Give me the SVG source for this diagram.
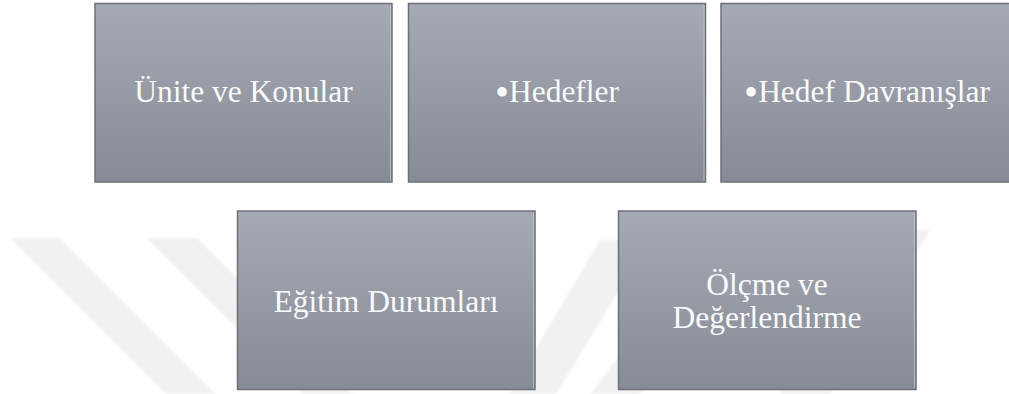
<svg xmlns="http://www.w3.org/2000/svg" width="1009" height="394" viewBox="0 0 1009 394">
  <defs>
    <linearGradient id="boxGrad" x1="0" y1="0" x2="0" y2="1">
      <stop offset="0" stop-color="#a6aab4"/>
      <stop offset="1" stop-color="#868b96"/>
    </linearGradient>
    <filter id="soft" x="-10%" y="-10%" width="120%" height="120%">
      <feGaussianBlur stdDeviation="1.2"/>
    </filter>
    <style>
      .box { fill: url(#boxGrad); stroke: #6b7079; stroke-width: 1.5; }
      .hl { fill: none; stroke: #c9ccd2; stroke-width: 1; opacity: 0.7; }
      .lbl { font-family: 'Liberation Serif', 'Times New Roman', Times, 'DejaVu Serif', serif; font-size: 31.5px; fill: #fafafa; text-anchor: middle; }
      .bul { font-size: 40px; }
      .wm { fill: #f1f1f1; }
    </style>
  </defs>
  <rect x="0" y="0" width="1009" height="394" fill="#ffffff"/>
  <g id="watermark" filter="url(#soft)">
    <polygon class="wm" points="10,238 60,238 216,394 166,394"/>
    <polygon class="wm" points="147,238 197,238 353,394 303,394"/>
    <polygon class="wm" points="600,240 650,240 556,394 509,394"/>
    <polygon class="wm" points="640,330 690,330 640,394 590,394"/>
    <polygon class="wm" points="880,230 930,230 830,394 780,394"/>
  </g>
  <g id="connectors"></g>
  <g id="node-unite">
    <rect class="box" x="95" y="3.5" width="297" height="178.5"/>
    <line class="hl" x1="390.5" y1="5" x2="390.5" y2="181"/>
    <text class="lbl" x="243.5" y="102">Ünite ve Konular</text>
  </g>
  <g id="node-hedefler">
    <rect class="box" x="408.5" y="3.5" width="297" height="178.5"/>
    <line class="hl" x1="704" y1="5" x2="704" y2="181"/>
    <text class="lbl" x="557" y="102"><tspan class="bul" dy="4">•</tspan><tspan dy="-4">Hedefler</tspan></text>
  </g>
  <g id="node-hedef-davranislar">
    <rect class="box" x="721" y="3.5" width="297" height="178.5"/>
    <text class="lbl" x="867" y="102"><tspan class="bul" dy="4">•</tspan><tspan dy="-4">Hedef Davranışlar</tspan></text>
  </g>
  <g id="node-egitim">
    <rect class="box" x="237.5" y="211" width="297.5" height="178.5"/>
    <line class="hl" x1="533.5" y1="212.5" x2="533.5" y2="388.5"/>
    <text class="lbl" x="386" y="312">Eğitim Durumları</text>
  </g>
  <g id="node-olcme">
    <rect class="box" x="618.5" y="211" width="297.5" height="178.5"/>
    <line class="hl" x1="914.5" y1="212.5" x2="914.5" y2="388.5"/>
    <text class="lbl" x="767" y="294.5">Ölçme ve</text>
    <text class="lbl" x="767" y="328">Değerlendirme</text>
  </g>
</svg>
